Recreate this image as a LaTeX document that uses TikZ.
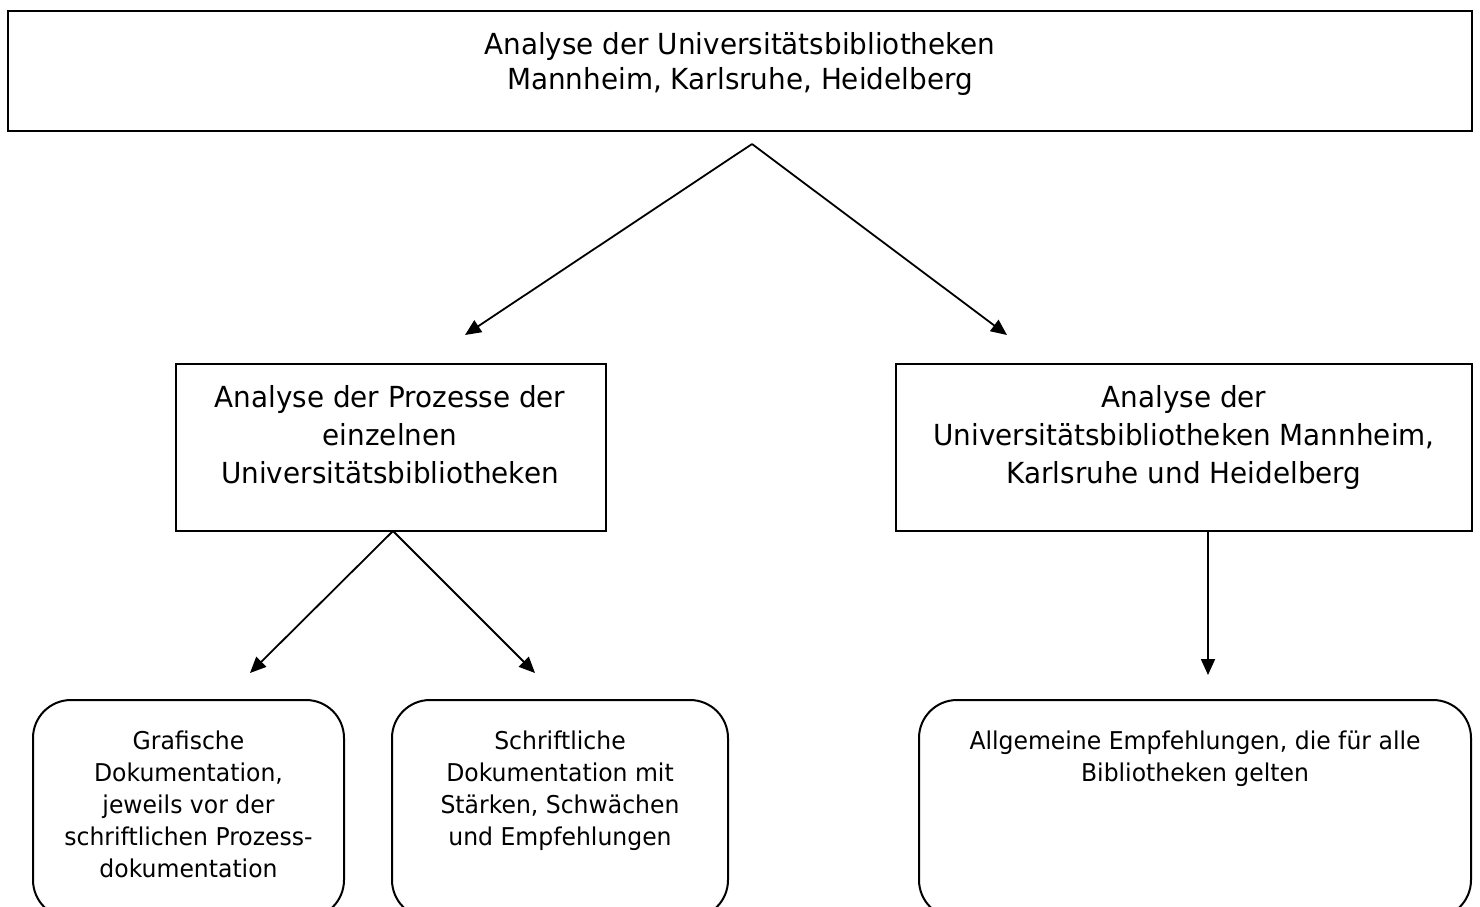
\documentclass[tikz,border=0pt]{standalone}
\usepackage{fontspec}
\setmainfont{DejaVu Sans}[FakeStretch=0.96]
\usetikzlibrary{arrows.meta}
\tikzset{
  boxshape/.style={draw=black, line width=2pt, inner sep=0pt, minimum width=#1},
  roundbox/.style={draw=black, line width=2pt, inner sep=0pt, rounded corners=38pt, minimum width=#1, minimum height=218pt},
  bigtext/.style={inner sep=0pt, align=center, anchor=north, font=\fontsize{29}{35}\selectfont},
  midtext/.style={inner sep=0pt, align=center, anchor=north, font=\fontsize{29}{38}\selectfont},
  smalltext/.style={inner sep=0pt, align=center, anchor=north, font=\fontsize{24.5}{32}\selectfont},
  arr/.style={line width=1.8pt, -{Triangle[length=16pt,width=14pt]}}
}
\begin{document}
\begin{tikzpicture}[x=1pt,y=-1pt]
\useasboundingbox (0,0) rectangle (1480,906);
\clip (0,0) rectangle (1480,906);
% boxes
\node[boxshape=1464pt, minimum height=120pt] (top) at (740,71) {};
\node[boxshape=430pt, minimum height=167pt] (mleft) at (391,447.5) {};
\node[boxshape=576pt, minimum height=167pt] (mright) at (1184,447.5) {};
\node[roundbox=311pt] (bl) at (188.5,809) {};
\node[roundbox=336pt] (bm) at (560,809) {};
\node[roundbox=552pt] (br) at (1195,809) {};
% texts
\node[bigtext] (ttop) at (740,29.5) {\strut Analyse der Universitätsbibliotheken\\Mannheim, Karlsruhe, Heidelberg};
\node[midtext] (tml) at (390,380.4) {\strut Analyse der Prozesse der\\einzelnen\\Universitätsbibliotheken};
\node[midtext] (tmr) at (1184,380.4) {\strut Analyse der\\Universitätsbibliotheken Mannheim,\\Karlsruhe und Heidelberg};
\node[smalltext] (tbl) at (188.5,726.6) {\strut Grafische\\Dokumentation,\\jeweils vor der\\schriftlichen Prozess-\\dokumentation};
\node[smalltext] (tbm) at (560,726.6) {\strut Schriftliche\\Dokumentation mit\\Stärken, Schwächen\\und Empfehlungen};
\node[smalltext] (tbr) at (1195,726.6) {\strut Allgemeine Empfehlungen, die für alle\\Bibliotheken gelten};
% connectors
\coordinate (apex) at (752,144);
\coordinate (tipL) at (465,335);
\coordinate (tipR) at (1007,335);
\coordinate (apex2) at (393,531);
\coordinate (tipBL) at (250,673);
\coordinate (tipBM) at (535,673);
\coordinate (tipBR) at (1208,675);
\draw[arr] (apex) -- (tipL);
\draw[arr] (apex) -- (tipR);
\draw[arr] (apex2) -- (tipBL);
\draw[arr] (apex2) -- (tipBM);
\draw[arr] (mright.south -| tipBR) -- (tipBR);
\end{tikzpicture}
\end{document}
